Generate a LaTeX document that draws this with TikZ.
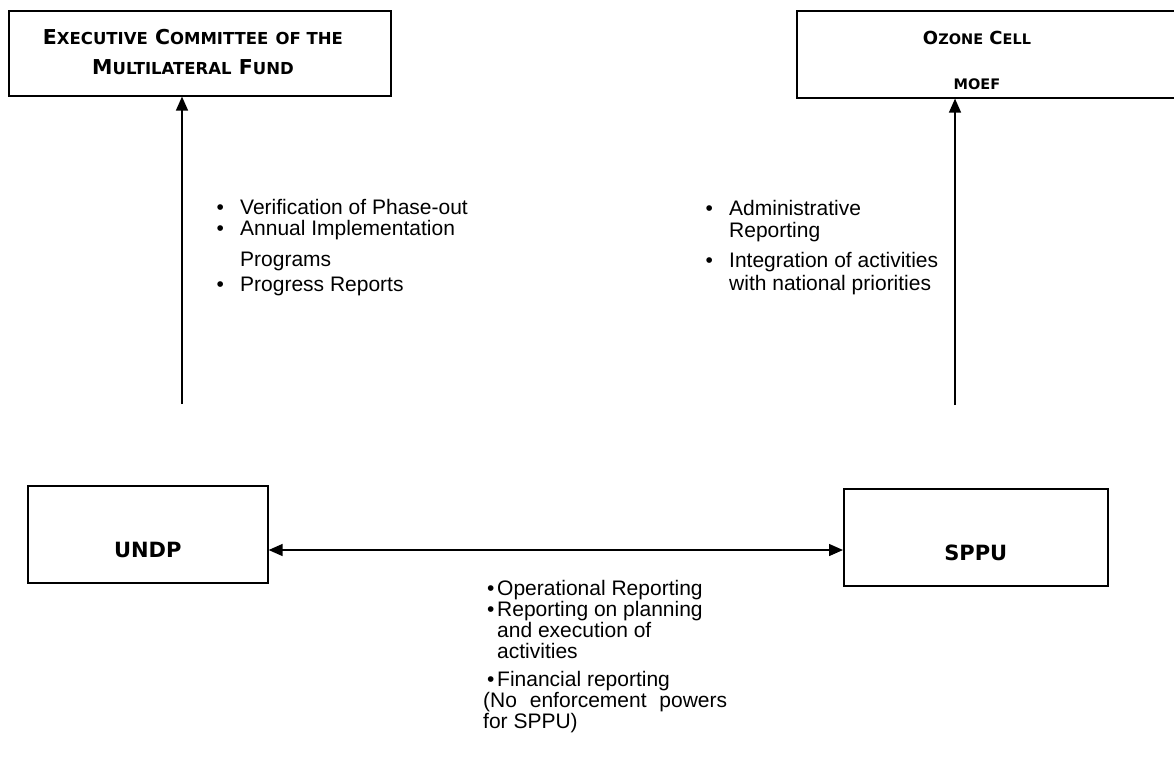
\documentclass[tikz,border=0pt]{standalone}
\usepackage{fontspec}
\setmainfont{Liberation Sans}
\newfontfamily\headfont{DejaVu Sans}
\usepackage{tikz}
\usetikzlibrary{arrows.meta, positioning}

% small capitals in the box titles
\newcommand\lowcap[1]{{\fontsize{16.5}{30}\selectfont #1}}
\newcommand\lowcapo[1]{{\fontsize{14.5}{30}\selectfont #1}}
\newcommand\bul{\makebox[23.5pt][l]{\textbullet}}
\newcommand\ind{\hspace*{23.5pt}}
\newcommand\bulb{\hspace*{4pt}\makebox[10pt][l]{\textbullet}}
\newcommand\indb{\hspace*{14pt}}

\begin{document}
\begin{tikzpicture}[x=1pt, y=-1pt,
        headbox/.style={draw, line width=1.6pt, inner sep=0pt, anchor=north west},
        head/.style={font=\headfont\bfseries\fontsize{20.5}{30}\selectfont, align=center},
        unit/.style={draw, line width=1.6pt, inner sep=0pt, anchor=north west,
            text height=72pt, text depth=25pt, font=\headfont\bfseries\fontsize{21}{25}\selectfont},
        notes/.style={font=\fontsize{21}{21.5}\selectfont, align=left, inner sep=0pt, anchor=base west},
        arr/.style={-{Triangle[length=14pt, width=12pt]}, line width=1.4pt},
        biarr/.style={{Triangle[length=14pt, width=12pt]}-{Triangle[length=14pt, width=12pt]}, line width=1.4pt}
    ]
        \useasboundingbox (0,0) rectangle (1174,764);

        % top boxes
        \node[headbox, minimum width=382pt, minimum height=85pt] (exec) at (8,10) {};
        \node[head] (exectitle) at (193,52)
            {E\lowcap{XECUTIVE} C\lowcap{OMMITTEE} \lowcap{OF THE}\\
             M\lowcap{ULTILATERAL} F\lowcap{UND}};
        \node[headbox, minimum width=394pt, minimum height=87pt] (ozone) at (796,10) {};
        \node[head, font=\headfont\bfseries\fontsize{18}{45}\selectfont] (ozonetitle) at (977,60)
            {O\lowcapo{ZONE} C\lowcapo{ELL}\\ \lowcapo{MOEF}};

        % bottom boxes
        \node[unit, minimum width=240pt] (undp) at (27,485) {UNDP};
        \node[unit, minimum width=264pt] (sppu) at (843,488) {SPPU};

        % connectors
        \coordinate (execfoot) at (182,404);
        \coordinate (ozonefoot) at (955,405);
        \draw[arr] (execfoot) -- (execfoot |- exec.south);
        \draw[arr] (ozonefoot) -- (ozonefoot |- ozone.south);
        \draw[biarr] (undp.east |- 0,550) -- (sppu.west |- 0,550);

        % reporting lines (anchored at the last baseline)
        \node[notes] (execnotes) at (216.5,291)
            {\bul Verification of Phase-out\\
             \bul Annual Implementation\\[9pt]
             \ind Programs\\[3.5pt]
             \bul Progress Reports};
        \node[notes] (ozonenotes) at (705.5,290)
            {\bul Administrative\\
             \ind Reporting\\[8.5pt]
             \bul Integration of activities\\[1.5pt]
             \ind with national priorities};
        \node[notes, font=\fontsize{21}{21}\selectfont] (sppunotes) at (483,728)
            {\bulb Operational Reporting\\
             \bulb Reporting on planning\\
             \indb and execution of\\
             \indb activities\\[7pt]
             \bulb Financial reporting\\
             \makebox[244pt][s]{(No enforcement powers}\\
             for SPPU)};
    \end{tikzpicture}
\end{document}
